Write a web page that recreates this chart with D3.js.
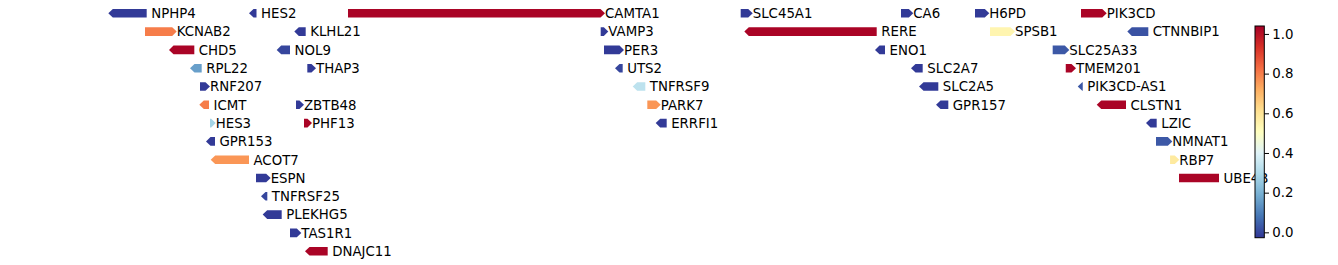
<!DOCTYPE html>
<html>
<head>
<meta charset="utf-8">
<script src="https://cdn.jsdelivr.net/npm/d3@7"></script>
<style>
  body { margin: 0; background: #fff; }
  svg { display: block; font-family: "DejaVu Sans", sans-serif; }
  .label { font-size: 13.33px; fill: #000; }
  .cbar text { font-size: 13.33px; fill: #000; font-family: "DejaVu Sans", sans-serif; }
</style>
</head>
<body>
<svg width="1338" height="265"></svg>
<script>
// genes on chr1, positions in kb, one track row each
var genes = ["NPHP4","HES2","CAMTA1","SLC45A1","CA6","H6PD","PIK3CD",
  "KCNAB2","KLHL21","VAMP3","RERE","SPSB1","CTNNBIP1",
  "CHD5","NOL9","PER3","ENO1","SLC25A33",
  "RPL22","THAP3","UTS2","SLC2A7","TMEM201",
  "RNF207","TNFRSF9","SLC2A5","PIK3CD-AS1",
  "ICMT","ZBTB48","PARK7","GPR157","CLSTN1",
  "HES3","PHF13","ERRFI1","LZIC",
  "GPR153","NMNAT1",
  "ACOT7","RBP7",
  "ESPN","UBE4B",
  "TNFRSF25","PLEKHG5","TAS1R1","DNAJC11"];

var rows = [0,0,0,0,0,0,0, 1,1,1,1,1,1, 2,2,2,2,2, 3,3,3,3,3, 4,4,4,4,
  5,5,5,5,5, 6,6,6,6, 7,7, 8,8, 9,9, 10,11,12,13];

var starts = [5944.6,6483.5,6845.4,8349.4,8963.4,9246.8,9652.8,
  6067.9,6657.0,7813.2,8380.5,9304.3,9847.3,
  6177.1,6589.6,7825.9,8881.0,9544.4,
  6257.5,6689.5,7885.2,9018.9,9594.2,
  6278.6,7953.0,9049.6,9657.4,
  6293.1,6646.2,7991.7,9114.7,9730.2,
  6316.9,6676.9,8041.1,9919.0,
  6318.8,9940.0,
  6336.8,9993.7,
  6493.0,10028.1,
  6529.4,6535.9,6623.3,6697.9];

var ends = [6074.4,6495.0,7812.5,8378.2,8993.3,9284.3,9734.0,
  6172.1,6683.4,7825.1,8870.3,9382.8,9910.5,
  6256.7,6623.3,7885.2,8902.1,9590.7,
  6285.1,6705.6,7897.5,9046.5,9616.4,
  6299.6,7984.1,9106.2,9659.3,
  6313.0,6659.6,8025.8,9144.5,9825.1,
  6321.5,6690.3,8066.0,9942.7,
  6336.0,9985.2,
  6466.2,10012.0,
  6532.1,10181.3,
  6536.3,6591.5,6649.3,6767.7];

var strands = ["-","-","+","+","+","+","+",
  "+","-","+","-","+","-",
  "-","-","+","-","+",
  "-","+","-","-","+",
  "+","-","-","-",
  "-","+","+","-","-",
  "+","+","-","-",
  "-","+",
  "-","+",
  "+",".",
  "-","-","+","-"];

var values = [-0.02,-0.02,1.03,-0.02,-0.02,-0.02,1.03,
  0.80,-0.02,-0.02,1.03,0.54,0.02,
  1.03,0.0,-0.02,-0.02,0.03,
  0.16,-0.02,0.0,-0.02,1.03,
  -0.02,0.33,-0.02,0.03,
  0.80,-0.02,0.76,-0.02,1.03,
  0.28,1.03,-0.02,-0.02,
  -0.02,0.03,
  0.76,0.58,
  -0.02,1.03,
  0.0,-0.02,-0.02,1.03];

var cbarTicks = [0, 0.2, 0.4, 0.6, 0.8, 1.0];
var vmin = -0.027, vmax = 1.04;

var svg = d3.select("svg");

var x = d3.scaleLinear().domain([5512.6, 10637]).range([0, 1338]);
var y = d3.scalePoint().domain(d3.range(14)).range([13.3, 251.2]);

var color = d3.scaleLinear()
  .domain(d3.range(11).map(function(i) { return vmin + i * (vmax - vmin) / 10; }))
  .range(d3.schemeRdYlBu[11].slice().reverse());

var data = genes.map(function(g, i) {
  return {name: g, row: rows[i], start: starts[i], end: ends[i], strand: strands[i], value: values[i]};
});

var hh = 4.3,   // half height of a gene
    head = 4.5; // arrow head length, px

function shape(d) {
  var x0 = x(d.start), x1 = x(d.end), c = y(d.row);
  if (d.strand == "+")
    return [[x0,c-hh],[x1,c-hh],[x1+head,c],[x1,c+hh],[x0,c+hh]].join(" ");
  if (d.strand == "-")
    return [[x1,c-hh],[x0,c-hh],[x0-head,c],[x0,c+hh],[x1,c+hh]].join(" ");
  return [[x0,c-hh],[x1,c-hh],[x1,c+hh],[x0,c+hh]].join(" ");
}

var gene = svg.selectAll(".gene")
    .data(data)
  .enter().append("g")
    .attr("class", "gene");

gene.append("polygon")
    .attr("points", shape)
    .style("fill", function(d) { return color(d.value); });

gene.append("text")
    .attr("class", "label")
    .attr("x", function(d) { return x(d.end) + 4.5; })
    .attr("y", function(d) { return y(d.row) + 4.85; })
    .text(function(d) { return d.name; });

// colorbar
var cb = {x: 1255, w: 9.3};
var cy = d3.scaleLinear().domain([vmin, vmax]).range([237.7, 26]);

var grad = svg.append("defs").append("linearGradient")
    .attr("id", "cbgrad")
    .attr("x1", 0).attr("y1", 1).attr("x2", 0).attr("y2", 0);
grad.selectAll("stop")
    .data(d3.range(0, 1.0001, 0.02))
  .enter().append("stop")
    .attr("offset", function(t) { return t; })
    .attr("stop-color", function(t) { return color(vmin + t * (vmax - vmin)); });

var cbar = svg.append("g").attr("class", "cbar");
cbar.append("rect")
    .attr("x", cb.x).attr("y", cy(vmax))
    .attr("width", cb.w).attr("height", cy(vmin) - cy(vmax))
    .style("fill", "url(#cbgrad)")
    .style("stroke", "#000").style("stroke-width", 1);

cbar.append("g")
    .attr("transform", "translate(" + (cb.x + cb.w) + ",0)")
    .call(d3.axisRight(cy).tickValues(cbarTicks).tickFormat(d3.format(".1f")).tickSize(4.7).tickPadding(3.3))
    .call(function(g) { g.select(".domain").remove(); })
    .call(function(g) { g.selectAll("text").attr("font-size", null).attr("font-family", null); });
</script>
</body>
</html>
